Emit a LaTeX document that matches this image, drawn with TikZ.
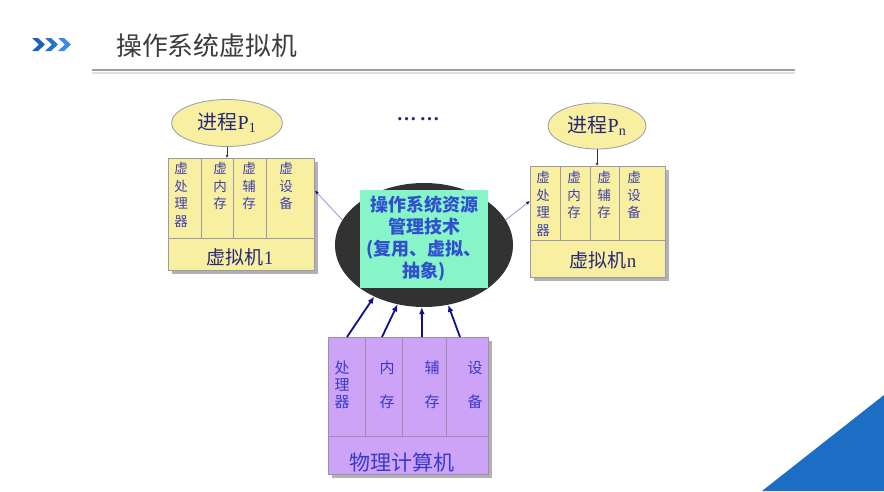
\documentclass[tikz,border=0pt]{standalone}
\usepackage{fontspec}
\setmainfont{Liberation Serif}
\newfontfamily\cjk{Noto Sans CJK SC}
\usetikzlibrary{arrows.meta,shapes.geometric,shadows}
\definecolor{vmyellow}{HTML}{F8F0A0}
\definecolor{boxline}{HTML}{9A9AA8}
\definecolor{vmtext}{HTML}{4040B0}
\definecolor{labnavy}{HTML}{28287A}
\definecolor{physpurple}{HTML}{CCA3F7}
\definecolor{physline}{HTML}{9C8CB0}
\definecolor{phystext}{HTML}{3A3AC8}
\definecolor{coregray}{HTML}{323232}
\definecolor{coregreen}{HTML}{88F5C8}
\definecolor{coretext}{HTML}{3050D0}
\definecolor{arrowblue}{HTML}{10108C}
\definecolor{linkpurple}{HTML}{A0A0DC}
\definecolor{titlegray}{HTML}{3C3C3C}
\definecolor{chevdark}{HTML}{1A62B8}
\definecolor{chevlight}{HTML}{3A8CE0}
\definecolor{cornerblue}{HTML}{1C6DC4}
\begin{document}
\begin{tikzpicture}[x=1pt,y=-1pt,
  boxshadow/.style={drop shadow={shadow xshift=4pt,shadow yshift=-4pt,fill=gray!60,opacity=1}},
  vmbox/.style={draw=boxline,fill=vmyellow,line width=0.8pt,anchor=north west,inner sep=0pt,boxshadow},
  physbox/.style={draw=physline,fill=physpurple,line width=0.8pt,anchor=north west,inner sep=0pt,boxshadow},
  divider/.style={draw=boxline,line width=0.8pt},
  pdivider/.style={draw=physline,line width=0.8pt},
  coltext/.style={font=\cjk\fontsize{13.5}{17.5}\selectfont,text=vmtext,align=center,inner sep=0pt,anchor=north},
  pcoltext/.style={font=\cjk\fontsize{15}{17}\selectfont,text=phystext,align=center,inner sep=0pt,anchor=north},
  proc/.style={ellipse,draw=boxline,fill=vmyellow,line width=0.8pt,inner sep=0pt,font=\fontsize{20}{20}\selectfont,text=labnavy},
  vmlabel/.style={font=\fontsize{19}{19}\selectfont,text=labnavy,inner sep=0pt},
  smallarrow/.style={draw=black!80,line width=0.6pt,-{Latex[length=3pt,width=3pt]}},
  link/.style={draw=linkpurple,line width=0.9pt,-{Latex[length=4pt,width=3.5pt,fill=arrowblue,color=arrowblue]}},
  upArrow/.style={draw=arrowblue,line width=1.8pt,-{Latex[length=7pt,width=6pt]}}
  ]
\useasboundingbox[fill=white] (0,0) rectangle (884,491);

% header
\fill[chevdark] (32,38) -- (38,38) -- (45,44.5) -- (38,51) -- (32,51) -- (39,44.5) -- cycle;
\fill[chevdark!60!chevlight] (45,38) -- (51,38) -- (58,44.5) -- (51,51) -- (45,51) -- (52,44.5) -- cycle;
\fill[chevlight] (58,38) -- (64,38) -- (71,44.5) -- (64,51) -- (58,51) -- (65,44.5) -- cycle;
\node[anchor=west,inner sep=0pt,font=\cjk\fontsize{25.8}{26}\selectfont,text=titlegray] (title) at (116,46) {操作系统虚拟机};
\draw[gray!25,line width=2pt] (92,72.5) -- (795,72.5);
\draw[gray!75,line width=2pt] (92,70) -- (795,70);

% corner triangle
\fill[cornerblue] (762,491) -- (884,395) -- (884,491) -- cycle;

% central core
\node[ellipse,fill=coregray,minimum width=178pt,minimum height=124pt,inner sep=0pt] (core) at (424,245) {};
\node[fill=coregreen,minimum width=128pt,minimum height=98pt,inner sep=0pt,align=center,
      font=\cjk\bfseries\fontsize{18}{22}\selectfont,text=coretext] (tech) at (424,239)
      {操作系统资源\\管理技术\\(复用、虚拟、\\抽象)};

% dots
\node[font=\bfseries\fontsize{20}{20}\selectfont,text=labnavy,inner sep=0pt] (dots) at (418,119) {…\hspace{3pt}…};

% VM 1
\node[vmbox,minimum width=146pt,minimum height=112pt] (vm1) at (168,158) {};
\draw[divider] (168,238) -- (314,238);
\draw[divider] (201,158) -- (201,238);
\draw[divider] (233,158) -- (233,238);
\draw[divider] (266,158) -- (266,238);
\node[coltext] (v1a) at (181,162) {虚\\处\\理\\器};
\node[coltext] (v1b) at (220,162) {虚\\内\\存};
\node[coltext] (v1c) at (249,162) {虚\\辅\\存};
\node[coltext] (v1d) at (286,162) {虚\\设\\备};
\node[vmlabel] (vm1lab) at (240,257) {{\cjk 虚拟机}1};
\node[proc,minimum width=111pt,minimum height=47pt] (p1) at (227,123) {{\cjk 进程}P\textsubscript{1}};
\draw[smallarrow] (p1.south) -- (p1.south |- vm1.north);

% VM n
\node[vmbox,minimum width=135pt,minimum height=111pt] (vmn) at (530,166) {};
\draw[divider] (530,240) -- (665,240);
\draw[divider] (560,166) -- (560,240);
\draw[divider] (590,166) -- (590,240);
\draw[divider] (619,166) -- (619,240);
\node[coltext] (vna) at (543,171) {虚\\处\\理\\器};
\node[coltext] (vnb) at (574,171) {虚\\内\\存};
\node[coltext] (vnc) at (604,171) {虚\\辅\\存};
\node[coltext] (vnd) at (634,171) {虚\\设\\备};
\node[vmlabel] (vmnlab) at (603,260) {{\cjk 虚拟机}n};
\node[proc,minimum width=98pt,minimum height=46pt] (pn) at (597,126) {{\cjk 进程}P\textsubscript{n}};
\draw[smallarrow] (pn.south) -- (pn.south |- vmn.north);

% links core -> VMs
\draw[link] (core.163) -- ([yshift=24pt]vm1.east);
\draw[link] (core.17) -- ([yshift=21pt]vmn.west);

% physical machine
\node[physbox,minimum width=160pt,minimum height=137pt] (phys) at (328,337) {};
\draw[pdivider] (328,436) -- (488,436);
\draw[pdivider] (365,337) -- (365,436);
\draw[pdivider] (402,337) -- (402,436);
\draw[pdivider] (446,337) -- (446,436);
\node[pcoltext] (pa) at (342,361) {处\\理\\器};
\node[pcoltext] (pb) at (387,361) {内\\[17pt]存};
\node[pcoltext] (pc) at (432,361) {辅\\[17pt]存};
\node[pcoltext] (pd) at (475,361) {设\\[17pt]备};
\node[font=\cjk\fontsize{21}{21}\selectfont,text=phystext,inner sep=0pt] (physlab) at (402,462) {物理计算机};

% arrows phys -> core
\draw[upArrow] ([xshift=19pt]phys.north west) -- (core.226);
\draw[upArrow] ([xshift=54pt]phys.north west) -- (core.246);
\draw[upArrow] ([xshift=94pt]phys.north west) -- (core.268);
\draw[upArrow] ([xshift=132pt]phys.north west) -- (core.292);
\end{tikzpicture}
\end{document}
